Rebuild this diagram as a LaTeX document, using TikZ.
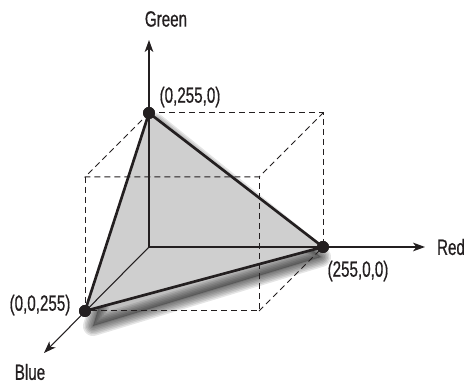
\documentclass[tikz,border=0pt]{standalone}
\usepackage{fontspec}
\setmainfont{Liberation Sans}[FakeStretch=0.69,FakeBold=0.6]
\usetikzlibrary{arrows.meta}
\definecolor{ink}{HTML}{231F20}
\definecolor{face}{HTML}{CFCFCF}
\begin{document}
\begin{tikzpicture}[x=0.75pt,y=-0.75pt,
  thin axis/.style={draw=ink, line width=0.8pt},
  axis arrow/.style={thin axis, -{Stealth[length=9pt,width=6.5pt,inset=2.5pt]}},
  cube edge/.style={draw=ink, line width=0.75pt, dash pattern=on 4.5pt off 3pt},
  tri edge/.style={draw=ink, line width=2pt, line join=round},
  dot/.style={circle, fill=ink, inner sep=0pt, minimum size=9pt},
  lbl/.style={text=ink, font=\fontsize{16.5}{19}\selectfont, inner sep=0pt},
  corner/.style={inner sep=0pt, minimum size=0pt}]
\useasboundingbox (0,0) rectangle (465,384);
% cube corners
\node[corner] (O) at (149,247) {};
\node[corner] (GR) at (323,113) {};
\node[corner] (GB) at (85,177) {};
\node[corner] (GRB) at (259,177) {};
\node[corner] (RB) at (259,311) {};
\coordinate (Gend) at (149,40);
\coordinate (Rend) at (425,247);
\coordinate (Bend) at (44,353);
% blurred shadow
\fill[black, opacity=0.25] (155,123) -- (321,257) -- (93,326) -- cycle;
\foreach \w in {20,17,14,11,8,5,2}{
  \draw[black, opacity=0.1, line width=\w*0.75pt, line join=round]
    (155,123) -- (321,257) -- (93,326) -- cycle;
}
% triangle face
\fill[face] (149,113) -- (323,247) -- (85,311) -- cycle;
% dot nodes
\node[dot] (G) at (149,113) {};
\node[dot] (R) at (323,247) {};
\node[dot] (B) at (85,311) {};
% dashed cube
\draw[cube edge] (G.center) -- (GR.center) -- (R.center);
\draw[cube edge] (G.center) -- (GB.center) -- (GRB.center) -- (GR.center);
\draw[cube edge] (GB.center) -- (B.center) -- (RB.center) -- (GRB.center);
\draw[cube edge] (RB.center) -- (R.center);
% axes
\draw[axis arrow] (O.center) -- (Gend);
\draw[axis arrow] (O.center) -- (Rend);
\draw[axis arrow] (O.center) -- (Bend);
% triangle edges
\draw[tri edge] (G.center) -- (R.center) -- (B.center) -- cycle;
% dots on top
\node[dot] at (G) {};
\node[dot] at (R) {};
\node[dot] at (B) {};
% labels
\node[lbl] (lg) at (166,19) {Green};
\node[lbl] (lr) at (451,247) {Red};
\node[lbl] (lb) at (30,372) {Blue};
\node[lbl] (lgv) at (190,97) {(0,255,0)};
\node[lbl] (lrv) at (358,271) {(255,0,0)};
\node[lbl] (lbv) at (40,305) {(0,0,255)};
\end{tikzpicture}
\end{document}
